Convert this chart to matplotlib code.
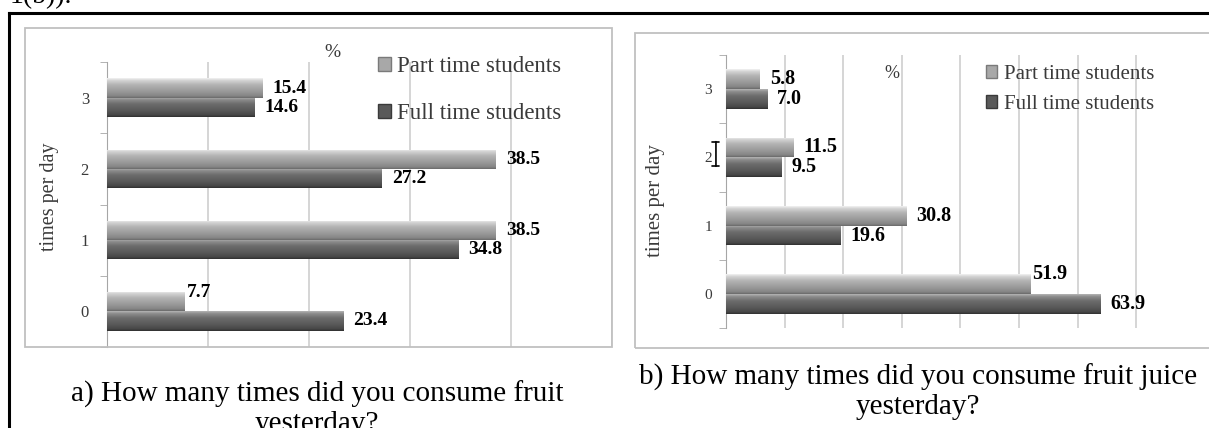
import matplotlib
matplotlib.use('Agg')
import numpy as np
import matplotlib.pyplot as plt
from matplotlib.colors import LinearSegmentedColormap
from matplotlib.patches import Rectangle, Patch
from matplotlib.lines import Line2D

plt.rcParams['font.family'] = ['Liberation Serif', 'DejaVu Serif']

# Data (% of students)
times = [0, 1, 2, 3]
fruit_part = [7.7, 38.5, 38.5, 15.4]
fruit_full = [23.4, 34.8, 27.2, 14.6]
juice_part = [51.9, 30.8, 11.5, 5.8]
juice_full = [63.9, 19.6, 9.5, 7.0]
series_names = ['Part time students', 'Full time students']
caption_a = 'a) How many times did you consume fruit\nyesterday?'
caption_b = 'b) How many times did you consume fruit juice\nyesterday?'

W, H = 1209, 428
fig = plt.figure(figsize=(W / 100, H / 100), dpi=100)


def fx(px):
    return px / W


def fy(py):
    return 1 - py / H


part_cmap = LinearSegmentedColormap.from_list('part', [
    (0, '#f2f2f2'), (0.12, '#d2d2d2'), (0.35, '#b2b2b2'),
    (0.7, '#979797'), (0.9, '#858585'), (1, '#6a6a6a')])
full_cmap = LinearSegmentedColormap.from_list('full', [
    (0, '#b4b4b4'), (0.12, '#8c8c8c'), (0.35, '#6c6c6c'),
    (0.7, '#575757'), (0.9, '#474747'), (1, '#303030')])


def shade(ax, bars, cmap):
    # fake the 3D gradient of the original office chart
    grad = np.linspace(0, 1, 64).reshape(-1, 1)
    for b in bars:
        x0, y0 = b.get_x(), b.get_y()
        w, h = b.get_width(), b.get_height()
        b.set_facecolor('none')
        b.set_edgecolor('none')
        im = ax.imshow(grad, cmap=cmap, aspect='auto', origin='upper',
                       extent=[x0, x0 + w, y0, y0 + h], zorder=3,
                       interpolation='bilinear')
        im.set_clip_path(b)


def panel(left, right, top, bottom, part, full, xmax, bar_h, raised,
          lab_fs, tick_fs, tick_pad, ylab_fs, ylab_x, ylab_y):
    ax = fig.add_axes([fx(left), fy(bottom), fx(right) - fx(left),
                       fy(top) - fy(bottom)])
    y = np.array(times)
    bp = ax.barh(y + bar_h / 2, part, height=bar_h, zorder=3)
    bf = ax.barh(y - bar_h / 2, full, height=bar_h, zorder=3)
    shade(ax, bp, part_cmap)
    shade(ax, bf, full_cmap)
    ax.set_xlim(0, xmax)
    ax.set_ylim(-0.5, len(times) - 0.5)

    for i, v in enumerate(part):
        if i == raised:
            ax.annotate(f'{v:.1f}', xy=(v, y[i] + bar_h), xytext=(2, 0),
                        textcoords='offset pixels', va='center', ha='left',
                        fontsize=lab_fs, fontweight='bold', zorder=6)
        else:
            ax.annotate(f'{v:.1f}', xy=(v, y[i] + bar_h / 2), xytext=(10, 0),
                        textcoords='offset pixels', va='center', ha='left',
                        fontsize=lab_fs, fontweight='bold', zorder=6)
    for i, v in enumerate(full):
        ax.annotate(f'{v:.1f}', xy=(v, y[i] - bar_h / 2), xytext=(10, 0),
                    textcoords='offset pixels', va='center', ha='left',
                    fontsize=lab_fs, fontweight='bold', zorder=6)

    for s in ['top', 'right', 'bottom']:
        ax.spines[s].set_visible(False)
    ax.spines['left'].set_color('#a6a6a6')
    ax.set_yticks(times)
    ax.set_yticklabels([str(t) for t in times], fontsize=tick_fs,
                       color='#3a3a3a')
    ax.set_yticks(np.arange(-0.5, len(times), 1), minor=True)
    ax.tick_params(axis='y', which='major', length=0, pad=tick_pad)
    ax.tick_params(axis='y', which='minor', length=5, color='#a6a6a6')
    ax.set_xticks(np.arange(0, xmax + 0.1, 10))
    ax.tick_params(axis='x', length=0, labelbottom=False)
    ax.grid(axis='x', color='#d2d2d2', lw=1.3)
    ax.set_axisbelow(True)
    ax.set_ylabel('times per day', fontsize=ylab_fs, color='#3a3a3a')
    ax.yaxis.set_label_coords(ylab_x, ylab_y)
    return ax


# a) fruit
ax_a = panel(107, 612, 62, 347, fruit_part, fruit_full, 50, 0.27, 0,
             14, 12, 13, 14.5, -0.095, 0.526)
ax_a.text(0.4455, 1.035, '%', transform=ax_a.transAxes, ha='center',
          va='center', fontsize=14, color='#3a3a3a')
handles = [Patch(facecolor='#a8a8a8', edgecolor='#7a7a7a'),
           Patch(facecolor='#5a5a5a', edgecolor='#3a3a3a')]
ax_a.legend(handles, series_names, loc='upper left',
            bbox_to_anchor=(fx(378), fy(56)), bbox_transform=fig.transFigure,
            frameon=False, fontsize=16.5, handlelength=0.55,
            handleheight=0.55, handletextpad=0.3, labelspacing=1.15,
            borderpad=0, borderaxespad=0, labelcolor='#3a3a3a')

# b) fruit juice
ax_b = panel(726, 1183, 55, 328, juice_part, juice_full, 78, 0.29, 0,
             14.5, 11, 10, 15, -0.1335, 0.465)
ax_b.text(0.363, 0.934, '%', transform=ax_b.transAxes, ha='center',
          va='center', fontsize=13, color='#3a3a3a')
ax_b.legend(handles, series_names, loc='upper left',
            bbox_to_anchor=(fx(986), fy(65)), bbox_transform=fig.transFigure,
            frameon=False, fontsize=15, handlelength=0.55,
            handleheight=0.55, handletextpad=0.3, labelspacing=0.52,
            borderpad=0, borderaxespad=0, labelcolor='#3a3a3a')
# stray text cursor captured in the screenshot
ax_b.annotate('', xy=(-0.022, 2.23), xytext=(-0.022, 1.87),
              xycoords=('axes fraction', 'data'),
              textcoords=('axes fraction', 'data'),
              arrowprops=dict(arrowstyle='|-|, widthA=0.25, widthB=0.25',
                              lw=1.2, color='black', shrinkA=0, shrinkB=0),
              annotation_clip=False)

# chart frames
fig.add_artist(Rectangle((fx(25), fy(347)), fx(612) - fx(25),
                         fy(28) - fy(347), transform=fig.transFigure,
                         fill=False, ec='#c0c0c0', lw=1.3))
fig.add_artist(Rectangle((fx(635), fy(348)), fx(1220) - fx(635),
                         fy(33) - fy(348), transform=fig.transFigure,
                         fill=False, ec='#c0c0c0', lw=1.3))

# document border
fig.add_artist(Line2D([fx(8.5), 1], [fy(13), fy(13)],
                      transform=fig.transFigure, color='black', lw=2.2))
fig.add_artist(Line2D([fx(8.5), fx(8.5)], [fy(13), 0],
                      transform=fig.transFigure, color='black', lw=2.2))
fig.text(fx(10), fy(3), '1(b)).', fontsize=20, va='baseline')

# captions
fig.text(fx(317), fy(409), caption_a, ha='center', va='center',
         fontsize=21, linespacing=1.12)
fig.text(fx(918), fy(392), caption_b, ha='center', va='center',
         fontsize=21, linespacing=1.12)

fig.savefig('out.png', dpi=100)
